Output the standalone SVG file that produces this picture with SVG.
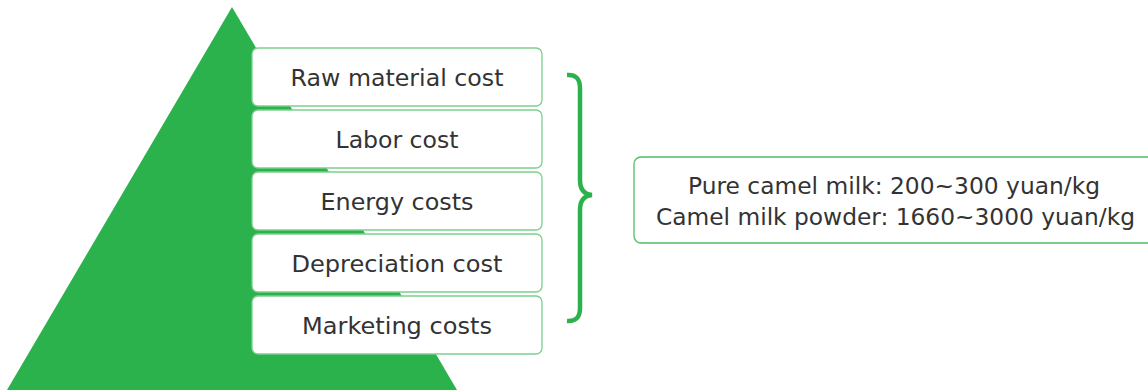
<svg xmlns="http://www.w3.org/2000/svg" width="1148" height="392" viewBox="0 0 1148 392">
<style>
.box{fill:#fff;stroke:#7ccf8f;stroke-width:1.3}
.t{font-family:"DejaVu Sans","Liberation Sans",sans-serif;font-size:23px;fill:#333;text-anchor:middle}
</style>
<rect width="1148" height="392" fill="#fff"/>
<g id="pyramid"><polygon points="232,7 7,390 457,390" fill="#2bb24c"/></g>
<g id="n1"><rect class="box" x="252" y="48" width="290" height="58" rx="6"/><text class="t" x="397" y="86" textLength="213" lengthAdjust="spacingAndGlyphs">Raw material cost</text></g>
<g id="n2"><rect class="box" x="252" y="110" width="290" height="58" rx="6"/><text class="t" x="397" y="148" textLength="123" lengthAdjust="spacingAndGlyphs">Labor cost</text></g>
<g id="n3"><rect class="box" x="252" y="172" width="290" height="58" rx="6"/><text class="t" x="397" y="210" textLength="153" lengthAdjust="spacingAndGlyphs">Energy costs</text></g>
<g id="n4"><rect class="box" x="252" y="234" width="290" height="58" rx="6"/><text class="t" x="397" y="272" textLength="211" lengthAdjust="spacingAndGlyphs">Depreciation cost</text></g>
<g id="n5"><rect class="box" x="252" y="296" width="290" height="58" rx="6"/><text class="t" x="397" y="334" textLength="190" lengthAdjust="spacingAndGlyphs">Marketing costs</text></g>
<g id="connectors"><path d="M567,75 Q580,74 580,88 L580,180 Q580,194 592,195 Q580,196 580,210 L580,308 Q580,322 567,321" fill="none" stroke="#2bb24c" stroke-width="4.5"/></g>
<g id="price"><rect class="box" x="634" y="157" width="524" height="86" rx="7" style="stroke:#4fbf68"/>
<text class="t" x="894" y="194" textLength="412" lengthAdjust="spacingAndGlyphs">Pure camel milk: 200~300 yuan/kg</text>
<text class="t" x="895.5" y="225" textLength="479" lengthAdjust="spacingAndGlyphs">Camel milk powder: 1660~3000 yuan/kg</text></g>
</svg>
